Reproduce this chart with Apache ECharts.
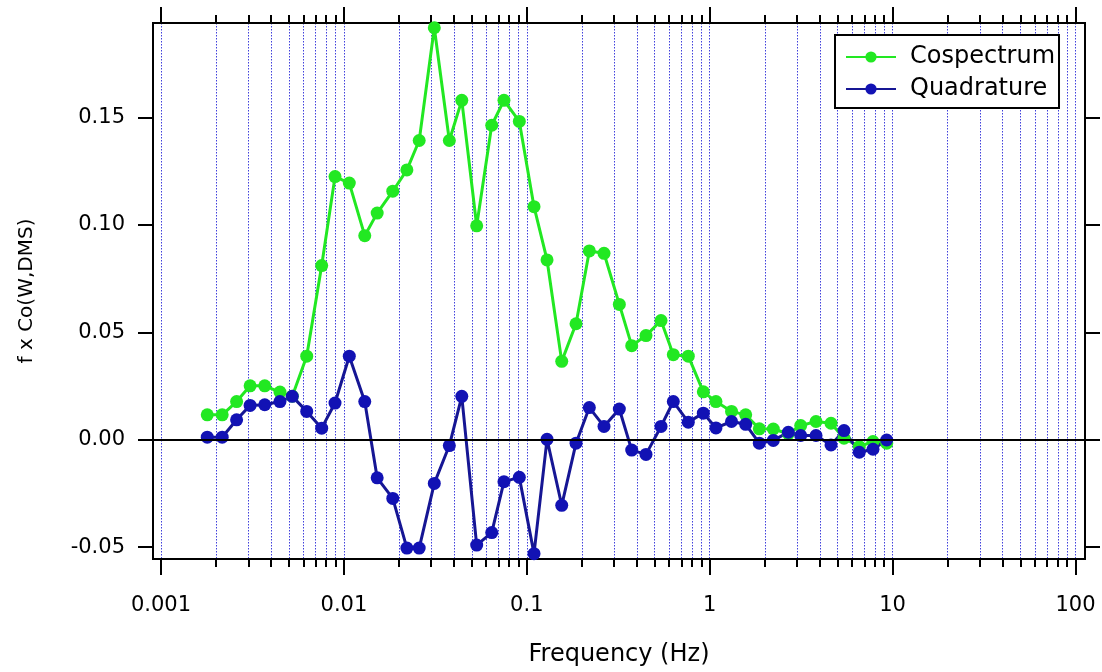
<!DOCTYPE html>
<html>
<head>
<meta charset="utf-8">
<title>Cospectrum / Quadrature</title>
<script src="https://cdn.jsdelivr.net/npm/echarts@6/dist/echarts.min.js"></script>
<style>
  html, body { margin: 0; padding: 0; background: #ffffff; }
  #chart { width: 1102px; height: 672px; }
</style>
</head>
<body>
<div id="chart"></div>
<script>
// frequency of each point (Hz)
var freqHz = [0.00179, 0.00216, 0.00259, 0.00307, 0.00369, 0.00447, 0.00522, 0.00626, 0.00756, 0.00894,
  0.0107, 0.0130, 0.0152, 0.0185, 0.0221, 0.0258, 0.0312, 0.0377, 0.0441, 0.0532,
  0.0643, 0.0750, 0.0910, 0.1095, 0.1290, 0.1552, 0.1858, 0.2197, 0.2643, 0.3205,
  0.3746, 0.4484, 0.5418, 0.6324, 0.7638, 0.9226, 1.082, 1.316, 1.573, 1.867,
  2.227, 2.690, 3.144, 3.813, 4.605, 5.425, 6.575, 7.812, 9.284]

var cospectrum = [0.0116, 0.0116, 0.0178, 0.0251, 0.0251, 0.0222, 0.0203, 0.0389, 0.0811, 0.1225,
  0.1195, 0.0950, 0.1055, 0.1157, 0.1256, 0.1393, 0.1918, 0.1393, 0.1580, 0.0996,
  0.1464, 0.1580, 0.1482, 0.1085, 0.0837, 0.0365, 0.0540, 0.0879, 0.0868, 0.0630,
  0.0438, 0.0485, 0.0555, 0.0396, 0.0389, 0.0223, 0.0178, 0.0132, 0.0116, 0.0051,
  0.0050, 0.0028, 0.0066, 0.0085, 0.0077, 0.0007, -0.0032, -0.0008, -0.0016]

var quadrature = [0.0012, 0.0012, 0.0093, 0.0160, 0.0163, 0.0178, 0.0202, 0.0132, 0.0054, 0.0171,
  0.0389, 0.0178, -0.0177, -0.0273, -0.0504, -0.0504, -0.0203, -0.0027, 0.0202, -0.0490,
  -0.0432, -0.0195, -0.0175, -0.0530, 0.0002, -0.0305, -0.0016, 0.0150, 0.0062, 0.0143,
  -0.0048, -0.0068, 0.0062, 0.0178, 0.0082, 0.0124, 0.0055, 0.0085, 0.0072, -0.0016,
  -0.0003, 0.0035, 0.0020, 0.0020, -0.0024, 0.0043, -0.0058, -0.0044, -0.0001]

// axis ticks
var decadeTicks = [0.001, 0.01, 0.1, 1, 10, 100]
var decadeLabels = ['0.001', '0.01', '0.1', '1', '10', '100']
var yTicks = [-0.05, 0, 0.05, 0.10, 0.15]

var minorTicks = []
decadeTicks.forEach(function (d, i) {
  minorTicks.push(d)
  if (i < decadeTicks.length - 1) {
    for (var k = 2; k <= 9; k++) minorTicks.push(+(d * k).toPrecision(3))
  }
})

function pairs(ys) {
  return freqHz.map(function (f, i) { return [f, ys[i]] })
}

var FONT = 'DejaVu Sans'
var X_MIN = 0.000904
var X_MAX = 112.7
var GREEN = '#22e822'
var BLUE = '#1212b4'

function logAxis(position, tickLen, withLabels) {
  return {
    type: 'log',
    logBase: 10,
    position: position,
    min: X_MIN,
    max: X_MAX,
    axisLine: { show: true, onZero: false, lineStyle: { color: '#000', width: 2 } },
    axisTick: {
      show: true,
      inside: false,
      length: tickLen,
      customValues: tickLen > 10 ? decadeTicks : minorTicks,
      lineStyle: { color: '#000', width: 2 }
    },
    axisLabel: withLabels ? {
      show: true,
      customValues: decadeTicks,
      margin: 36,
      color: '#000',
      fontFamily: FONT,
      fontSize: 21,
      formatter: function (v) {
        var best = 0
        decadeTicks.forEach(function (d, i) {
          if (Math.abs(Math.log10(d) - Math.log10(v)) < Math.abs(Math.log10(decadeTicks[best]) - Math.log10(v))) best = i
        })
        return decadeLabels[best]
      }
    } : { show: false },
    splitLine: { show: false },
    minorTick: { show: false },
    minorSplitLine: { show: false }
  }
}

var bottomMinor = logAxis('bottom', 8, true)
bottomMinor.name = 'Frequency (Hz)'
bottomMinor.nameLocation = 'middle'
bottomMinor.nameGap = 84
bottomMinor.nameTextStyle = { color: '#000', fontFamily: FONT, fontSize: 24 }
bottomMinor.splitLine = {
  show: true,
  lineStyle: { color: '#4040dc', width: 1, type: [1.5, 1.5] }
}

function valueAxis(position, withLabels) {
  return {
    type: 'value',
    position: position,
    min: -0.0555,
    max: 0.194,
    axisLine: { show: true, onZero: false, lineStyle: { color: '#000', width: 2 } },
    axisTick: {
      show: true,
      inside: false,
      length: 15,
      customValues: yTicks,
      lineStyle: { color: '#000', width: 2 }
    },
    axisLabel: withLabels ? {
      show: true,
      customValues: yTicks,
      margin: 28,
      color: '#000',
      fontFamily: FONT,
      fontSize: 21,
      formatter: function (v) { return v.toFixed(2) }
    } : { show: false },
    splitLine: { show: false }
  }
}

var leftAxis = valueAxis('left', true)
leftAxis.name = 'f x Co(W,DMS)'
leftAxis.nameLocation = 'middle'
leftAxis.nameGap = 116
leftAxis.nameTextStyle = { color: '#000', fontFamily: FONT, fontSize: 20 }

var chart = echarts.init(document.getElementById('chart'), null, { renderer: 'canvas' })
chart.setOption({
  backgroundColor: '#ffffff',
  animation: false,
  grid: {
    left: 153,
    right: 17,
    top: 23,
    bottom: 111,
    show: true,
    borderColor: '#000',
    borderWidth: 2,
    backgroundColor: 'transparent'
  },
  legend: {
    orient: 'vertical',
    left: 835,
    top: 35,
    padding: [10, 4, 7, 10],
    itemGap: 8,
    itemWidth: 50,
    itemHeight: 14,
    backgroundColor: '#ffffff',
    borderColor: '#000',
    borderWidth: 2,
    textStyle: { color: '#000', fontFamily: FONT, fontSize: 24, padding: [0, 0, 0, 9] },
    data: ['Cospectrum', 'Quadrature']
  },
  xAxis: [
    bottomMinor,
    logAxis('bottom', 16, false),
    logAxis('top', 8, false),
    logAxis('top', 16, false)
  ],
  yAxis: [
    leftAxis,
    valueAxis('right', false)
  ],
  series: [
    {
      name: 'Cospectrum',
      type: 'line',
      xAxisIndex: 0,
      yAxisIndex: 0,
      data: pairs(cospectrum),
      symbol: 'circle',
      symbolSize: 13,
      color: GREEN,
      lineStyle: { color: GREEN, width: 3 },
      itemStyle: { color: GREEN }
    },
    {
      name: 'Quadrature',
      type: 'line',
      xAxisIndex: 0,
      yAxisIndex: 0,
      data: pairs(quadrature),
      symbol: 'circle',
      symbolSize: 13,
      color: BLUE,
      lineStyle: { color: '#161694', width: 3 },
      itemStyle: { color: BLUE },
      markLine: {
        silent: true,
        symbol: 'none',
        label: { show: false },
        lineStyle: { color: '#000', width: 2, type: 'solid' },
        data: [{ yAxis: 0 }]
      }
    }
  ]
})
</script>
</body>
</html>
